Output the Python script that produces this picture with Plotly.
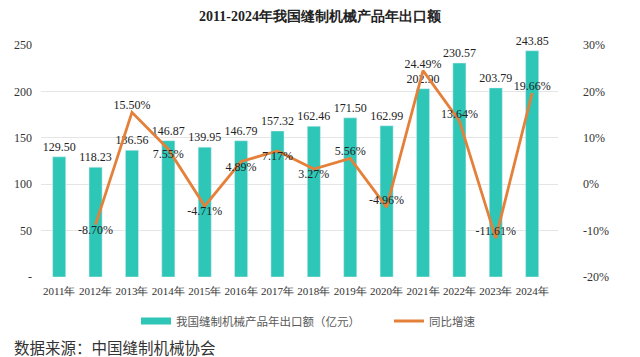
import plotly.graph_objects as go

years = ["2011年", "2012年", "2013年", "2014年", "2015年", "2016年", "2017年",
         "2018年", "2019年", "2020年", "2021年", "2022年", "2023年", "2024年"]
export_values = [129.50, 118.23, 136.56, 146.87, 139.95, 146.79, 157.32,
                 162.46, 171.50, 162.99, 202.90, 230.57, 203.79, 243.85]
growth_years = years[1:]
growth_rates = [-8.70, 15.50, 7.55, -4.71, 4.89, 7.17, 3.27, 5.56, -4.96,
                24.49, 13.64, -11.61, 19.66]
growth_label_pos = ["bottom center", "top center", "bottom center", "bottom center",
                    "bottom center", "bottom center", "bottom center", "top center",
                    "top center", "top center", "top center", "top center", "top center"]

left_ticks = [0, 50, 100, 150, 200, 250]
left_ticktext = ["-", "50", "100", "150", "200", "250"]
right_ticks = [-20, -10, 0, 10, 20, 30]
right_ticktext = ["-20%", "-10%", "0%", "10%", "20%", "30%"]

bar_name = "我国缝制机械产品年出口额（亿元）"
line_name = "同比增速"
bar_color = "#2EC6B7"
line_color = "#E5803A"

serif = "Liberation Serif"
W, H = 640, 357
ML, MR, MT, MB = 41, 82, 45, 80
PW, PH = W - ML - MR, H - MT - MB

fig = go.Figure()
fig.add_trace(go.Bar(
    x=years, y=export_values, name=bar_name, showlegend=False,
    marker=dict(color=bar_color),
    text=[f"{v:.2f}" for v in export_values], textposition="outside",
    constraintext="none",
    textfont=dict(family=serif, size=12, color="#222222"),
    cliponaxis=False,
))
# legend entry for the bars (wide flat swatch like the reference)
fig.add_trace(go.Scatter(
    x=[None], y=[None], name=bar_name, mode="lines",
    line=dict(color=bar_color, width=7), showlegend=True,
))
fig.add_trace(go.Scatter(
    x=growth_years, y=growth_rates, name=line_name, yaxis="y2",
    mode="lines+text", line=dict(color=line_color, width=2.8),
    text=[f"{v:.2f}%" for v in growth_rates], textposition=growth_label_pos,
    textfont=dict(family=serif, size=12, color="#222222"),
    cliponaxis=False,
))

fig.update_layout(
    width=W, height=H,
    margin=dict(l=ML, r=MR, t=MT, b=MB, autoexpand=False),
    paper_bgcolor="white", plot_bgcolor="white",
    title=dict(text="<b>2011-2024年我国缝制机械产品年出口额</b>",
               x=0.5, xanchor="center", y=1 - 16 / H, yanchor="middle",
               font=dict(family=serif, size=14, color="#222222")),
    bargap=0.64,
    xaxis=dict(tickfont=dict(family=serif, size=11, color="#333333"),
               tickangle=0, showgrid=False, showline=False, ticks="",
               ticklabelstandoff=6),
    yaxis=dict(range=[0, 250], tickvals=left_ticks, ticktext=left_ticktext,
               gridcolor="#e5e5e5", zeroline=False, ticklabelstandoff=8,
               tickfont=dict(family=serif, size=12, color="#333333")),
    yaxis2=dict(range=[-20, 30], tickvals=right_ticks, ticktext=right_ticktext,
                overlaying="y", side="right", showgrid=False, zeroline=False,
                ticklabelstandoff=24,
                tickfont=dict(family=serif, size=12, color="#333333")),
    legend=dict(orientation="h", x=(136 - ML) / PW, xanchor="left",
                y=-(321 - (MT + PH)) / PH, yanchor="middle",
                entrywidth=208, entrywidthmode="pixels",
                font=dict(family="Noto Sans CJK SC", size=11.5, color="#595959"),
                traceorder="normal", bgcolor="rgba(0,0,0,0)"),
    showlegend=True,
)
fig.add_annotation(text="数据来源：中国缝制机械协会", xref="paper", yref="paper",
                   x=(12 - ML) / PW, xanchor="left",
                   y=-(347 - (MT + PH)) / PH, yanchor="middle",
                   showarrow=False,
                   font=dict(family="Noto Sans CJK SC", size=15.5, color="#333333"))

fig.write_html("out.html", config={"displayModeBar": False},
               post_script="document.body.style.margin='0';")
